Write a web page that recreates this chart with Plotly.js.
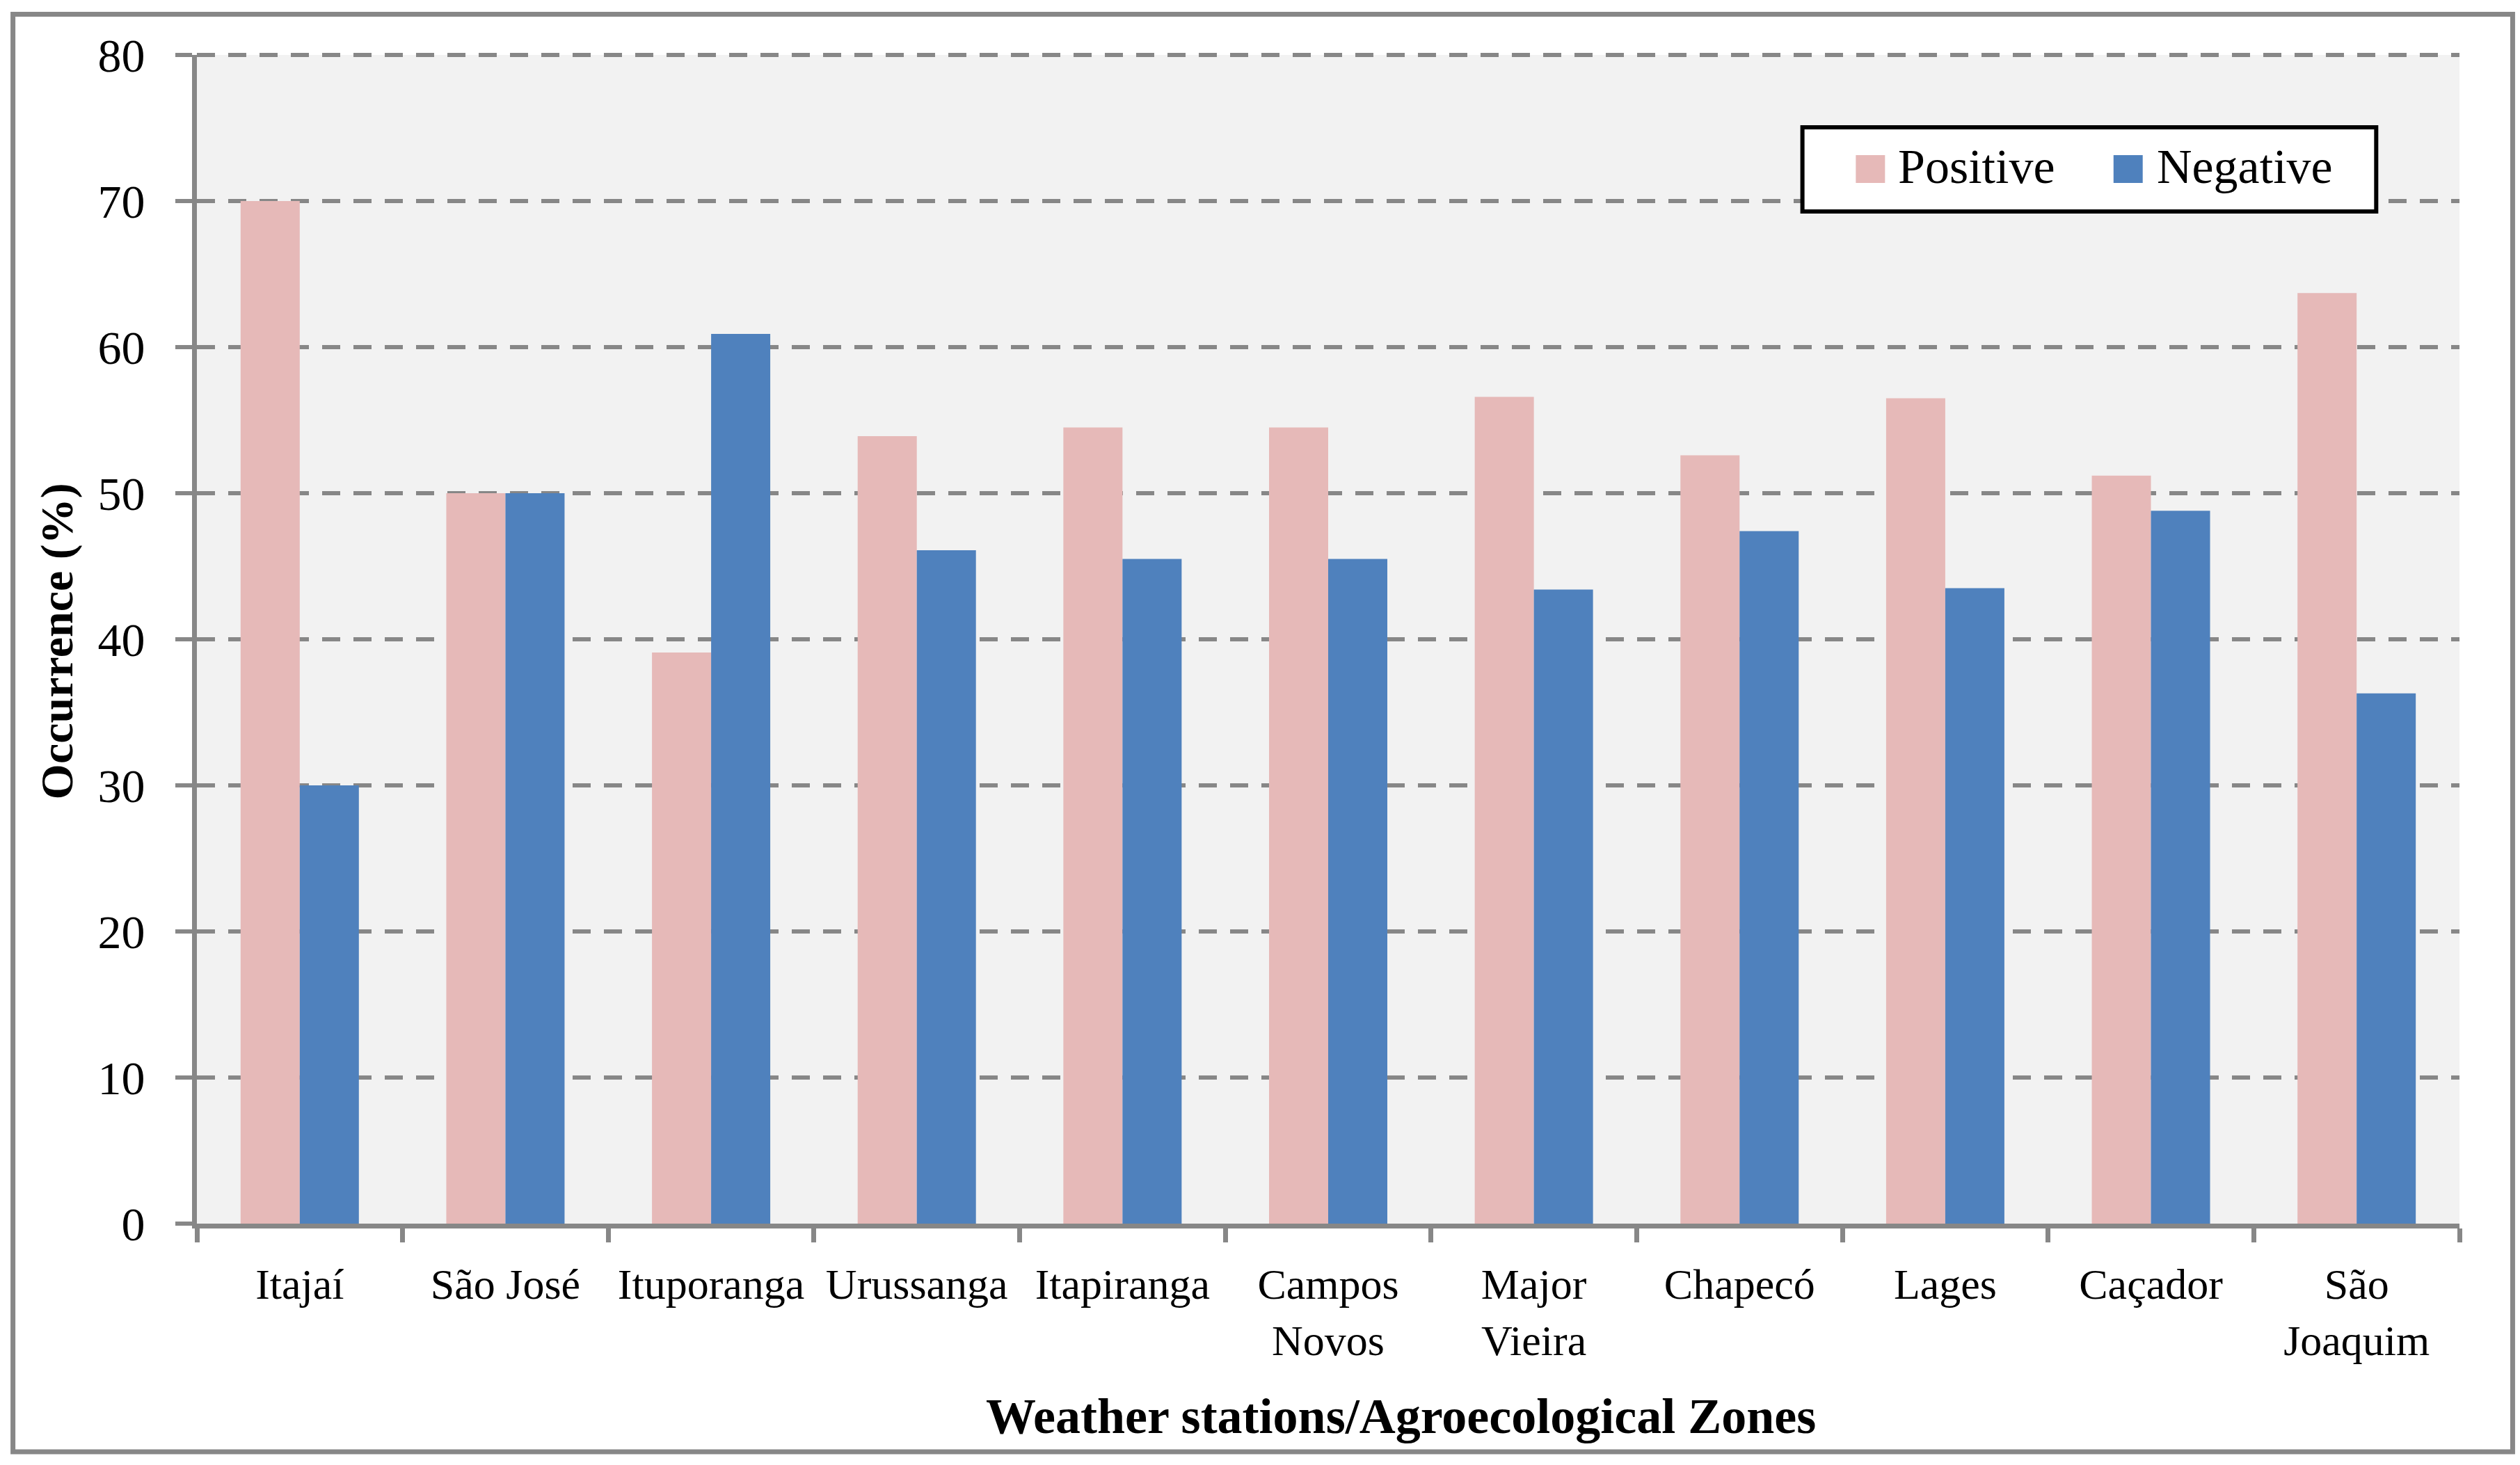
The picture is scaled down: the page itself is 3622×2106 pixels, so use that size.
<!DOCTYPE html>
<html>
<head>
<meta charset="utf-8">
<script src="https://cdn.plot.ly/plotly-3.0.1.min.js"></script>
<style>
  html, body { margin: 0; padding: 0; background: #ffffff; }
  #chart { width: 3622px; height: 2106px; }
</style>
</head>
<body>
<div id="chart"></div>
<script>
// Stations (two-word names wrap like in the original figure)
const stations = ['Itajaí', 'São José', 'Ituporanga', 'Urussanga', 'Itapiranga', 'Campos<br>Novos',
                  'Major<br>Vieira', 'Chapecó', 'Lages', 'Caçador', 'São<br>Joaquim'];
const positive = [70.0, 50.0, 39.1, 53.9, 54.5, 54.5, 56.6, 52.6, 56.5, 51.2, 63.7];
const negative = [30.0, 50.0, 60.9, 46.1, 45.5, 45.5, 43.4, 47.4, 43.5, 48.8, 36.3];
const seriesNames = ['Positive', 'Negative'];
const yTicks = [0, 10, 20, 30, 40, 50, 60, 70, 80];
const yMax = 80;

const pink = '#E6B9B8';
const blue = '#4F81BD';
const axisGray = '#878787';
const gridDash = '26px,19px';
const fontFamily = '"Liberation Serif", "Times New Roman", serif';

const traces = [
  { x: stations, y: positive, name: seriesNames[0], type: 'bar', marker: { color: pink }, showlegend: false },
  { x: stations, y: negative, name: seriesNames[1], type: 'bar', marker: { color: blue }, showlegend: false }
];

// legend drawn by hand so the swatches can be as large as in the source
const legendShapes = [
  { type: 'rect', xref: 'paper', yref: 'paper', x0: 0.7096, x1: 0.9632, y0: 0.8661, y1: 0.9381,
    line: { color: '#000000', width: 6 }, fillcolor: '#ffffff', layer: 'above' },
  { type: 'rect', xref: 'paper', yref: 'paper', x0: 0.7332, x1: 0.7461, y0: 0.8905, y1: 0.9143,
    line: { width: 0 }, fillcolor: pink, layer: 'above' },
  { type: 'rect', xref: 'paper', yref: 'paper', x0: 0.8471, x1: 0.8600, y0: 0.8905, y1: 0.9143,
    line: { width: 0 }, fillcolor: blue, layer: 'above' }
];

// plotly skips the grid line on the top edge (y = yMax), so add it back unclipped
const topGrid = { type: 'line', xref: 'paper', yref: 'paper', x0: 0, x1: 1, y0: 1, y1: 1,
                  line: { color: axisGray, width: 6, dash: gridDash }, layer: 'below' };

// outer chart border
const frame = { type: 'rect', xref: 'paper', yref: 'paper', x0: -0.0813, x1: 1.0235, y0: -0.1952, y1: 1.0348,
                line: { color: axisGray, width: 7 }, fillcolor: 'rgba(0,0,0,0)', layer: 'above' };

const annotations = [
  { text: seriesNames[0], xref: 'paper', yref: 'paper', x: 0.7513, y: 0.9042, xanchor: 'left', yanchor: 'middle',
    showarrow: false, font: { family: fontFamily, size: 70, color: '#000000' } },
  { text: seriesNames[1], xref: 'paper', yref: 'paper', x: 0.8655, y: 0.9042, xanchor: 'left', yanchor: 'middle',
    showarrow: false, font: { family: fontFamily, size: 70, color: '#000000' } },
  { text: '<b>Occurrence (%)</b>', xref: 'paper', yref: 'paper', x: -0.0617, y: 0.4982, textangle: -90,
    xanchor: 'center', yanchor: 'middle', showarrow: false, font: { family: fontFamily, size: 66, color: '#000000' } },
  { text: '<b>Weather stations/Agroecological Zones</b>', xref: 'paper', yref: 'paper', x: 0.5320, y: -0.1649,
    xanchor: 'center', yanchor: 'middle', showarrow: false, font: { family: fontFamily, size: 72, color: '#000000' } }
];

const layout = {
  width: 3622, height: 2106,
  paper_bgcolor: '#ffffff', plot_bgcolor: '#F2F2F2',
  font: { family: fontFamily, color: '#000000' },
  margin: { l: 283, r: 87, t: 79, b: 347 },
  barmode: 'group', bargap: 0.425, bargroupgap: 0,
  showlegend: false,
  xaxis: {
    type: 'category', tickson: 'boundaries', ticks: 'outside', ticklen: 20, tickwidth: 7, tickcolor: axisGray,
    showline: true, linecolor: axisGray, linewidth: 7, showgrid: false, zeroline: false,
    tickfont: { family: fontFamily, size: 62, color: '#000000' }, ticklabelstandoff: 27
  },
  yaxis: {
    range: [0, yMax], tickmode: 'array', tickvals: yTicks, ticks: 'outside', ticklen: 24, tickwidth: 6, tickcolor: axisGray,
    showline: true, linecolor: axisGray, linewidth: 7, zeroline: false,
    showgrid: true, gridcolor: axisGray, gridwidth: 6, griddash: gridDash,
    tickfont: { family: fontFamily, size: 68, color: '#000000' }, ticklabelstandoff: 30
  },
  shapes: [topGrid, frame, ...legendShapes],
  annotations: annotations
};

Plotly.newPlot('chart', traces, layout, { displayModeBar: false, staticPlot: true });
</script>
</body>
</html>
